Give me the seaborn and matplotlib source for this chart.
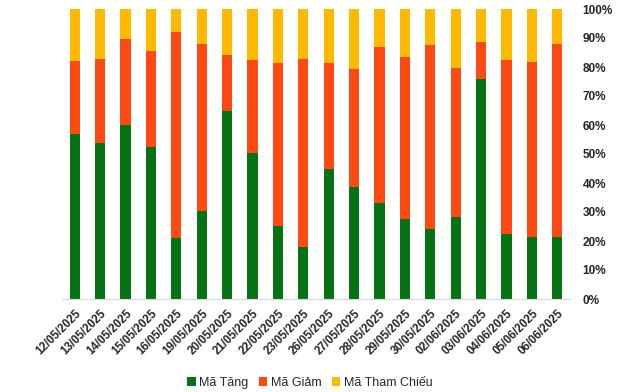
import matplotlib
matplotlib.use('Agg')
import matplotlib.pyplot as plt
from matplotlib.patches import Patch
from matplotlib.ticker import PercentFormatter
import numpy as np
import pandas as pd
import seaborn as sns

dates = ['12/05/2025', '13/05/2025', '14/05/2025', '15/05/2025', '16/05/2025',
         '19/05/2025', '20/05/2025', '21/05/2025', '22/05/2025', '23/05/2025',
         '26/05/2025', '27/05/2025', '28/05/2025', '29/05/2025', '30/05/2025',
         '02/06/2025', '03/06/2025', '04/06/2025', '05/06/2025', '06/06/2025']
ma_tang = [57.0, 53.7, 60.0, 52.4, 21.1, 30.3, 64.8, 50.4, 25.2, 18.0,
           44.7, 38.5, 33.1, 27.5, 24.1, 28.2, 75.9, 22.3, 21.4, 21.4]
ma_giam = [25.1, 29.1, 29.7, 33.1, 71.0, 57.7, 19.3, 32.0, 56.2, 64.8,
           36.7, 40.9, 53.8, 56.0, 63.5, 51.5, 12.8, 60.2, 60.4, 66.6]
ma_tham_chieu = [17.9, 17.2, 10.3, 14.5, 7.9, 12.0, 15.9, 17.6, 18.6, 17.2,
                 18.6, 20.6, 13.1, 16.5, 12.4, 20.3, 11.3, 17.5, 18.2, 12.0]

labels = ['Mã Tăng', 'Mã Giảm', 'Mã Tham Chiếu']
colors = ['#057313', '#fc4a12', '#ffb901']

sns.set_style('white')
plt.rcParams['font.family'] = ['Liberation Sans', 'DejaVu Sans']

df = pd.DataFrame({'date': dates, 'tang': ma_tang, 'giam': ma_giam, 'tc': ma_tham_chieu})
# cumulative tops, drawn back to front so the stacks show through
df['top_giam'] = df['tang'] + df['giam']
df['top_tc'] = df['top_giam'] + df['tc']

fig = plt.figure(figsize=(6.4, 3.92), dpi=100)
ax = fig.add_axes([62 / 640, 1 - 299 / 392, 508 / 640, 290 / 392])

for col, c in [('top_tc', colors[2]), ('top_giam', colors[1]), ('tang', colors[0])]:
    sns.barplot(data=df, x='date', y=col, color=c, width=0.4, saturation=1,
                order=dates, ax=ax, linewidth=0)

ax.set_xlim(-0.5, len(dates) - 0.5)
ax.set_ylim(0, 100)
ax.set_xlabel('')
ax.set_ylabel('')
ax.yaxis.tick_right()
ax.yaxis.set_major_formatter(PercentFormatter(decimals=0))
ax.set_yticks(np.arange(0, 101, 10))
ax.tick_params(axis='y', length=0, pad=9, labelsize=8.5)
ax.tick_params(axis='x', length=0, pad=6, labelsize=8.3)
for t in ax.get_yticklabels():
    t.set_fontweight('bold')
    t.set_horizontalalignment('left')
for t in ax.get_xticklabels():
    t.set_fontweight('bold')
    t.set_rotation(45)
    t.set_horizontalalignment('right')
    t.set_rotation_mode('anchor')

for s in ['top', 'left', 'right']:
    ax.spines[s].set_visible(False)
ax.spines['bottom'].set_color('#d9d9d9')

handles = [Patch(facecolor=c, edgecolor='none') for c in colors]
fig.legend(handles, labels, loc='center', bbox_to_anchor=(0.484, 0.023), ncol=3,
           frameon=False, fontsize=9, handlelength=0.7, handleheight=0.7,
           handletextpad=0.3, columnspacing=0.8)

fig.savefig('out.png', dpi=100)
